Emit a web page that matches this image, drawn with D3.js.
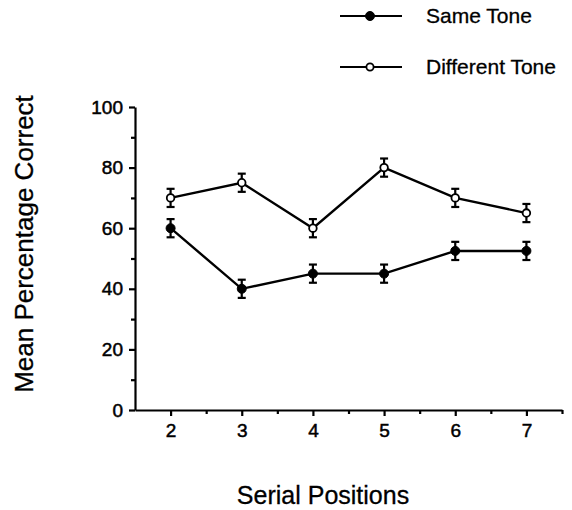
<!DOCTYPE html>
<html><head>
<meta charset="utf-8">
<script src="https://cdnjs.cloudflare.com/ajax/libs/d3/7.8.5/d3.min.js"></script>
<style>
  body { margin: 0; background: #fff; }
  svg { display: block; font-family: "Liberation Sans", Arial, sans-serif; }
  .axis path, .axis line { stroke: #000; stroke-width: 2.2; }
  .axis text { font-size: 19px; fill: #000; stroke: #000; stroke-width: 0.5; }
</style>
</head>
<body>
<svg id="chart" width="572" height="510"></svg>
<script>
// data
let positions = [2, 3, 4, 5, 6, 7];
let sameTone = [60, 40, 45, 45, 52.5, 52.5];
let diffTone = [70, 75, 60, 80, 70, 65];
let sameErr = [3, 3, 3, 3, 3, 3];
let diffErr = [3, 3, 3, 3, 3, 3];
let yMajor = [0, 20, 40, 60, 80, 100];
let yMinor = [10, 30, 50, 70, 90];
let xMinor = [2.5, 3.5, 4.5, 5.5, 6.5, 7.5];

let svg = d3.select("#chart");

let x = d3.scaleLinear().domain([1.5, 7.5]).range([135, 562]);
let y = d3.scaleLinear().domain([0, 100]).range([410, 107]);

// y axis
svg.append("g").attr("class", "axis")
  .attr("transform", "translate(135,0)")
  .call(d3.axisLeft(y).tickValues(yMajor).tickFormat(d3.format("d"))
    .tickSize(6).tickSizeOuter(0).tickPadding(6));
svg.append("g").attr("class", "axis")
  .attr("transform", "translate(135,0)")
  .call(d3.axisLeft(y).tickValues(yMinor).tickSize(4).tickFormat(""))
  .select(".domain").remove();

// x axis
svg.append("g").attr("class", "axis")
  .attr("transform", "translate(0,410)")
  .call(d3.axisBottom(x).tickValues(positions).tickFormat(d3.format("d"))
    .tickSize(6).tickSizeOuter(0).tickPadding(8));
svg.append("g").attr("class", "axis")
  .attr("transform", "translate(0,410)")
  .call(d3.axisBottom(x).tickValues(xMinor).tickSize(4).tickFormat(""))
  .select(".domain").remove();

function drawSeries(vals, errs, filled) {
  let pts = positions.map((p, i) => ({ p: p, v: vals[i], e: errs[i] }));
  let line = d3.line().x(d => x(d.p)).y(d => y(d.v));
  svg.append("path").datum(pts)
    .attr("d", line)
    .attr("fill", "none")
    .attr("stroke", "#000")
    .attr("stroke-width", 2.4);

  let g = svg.append("g");
  let eb = g.selectAll(".eb").data(pts).enter().append("g");
  eb.append("line")
    .attr("x1", d => x(d.p)).attr("x2", d => x(d.p))
    .attr("y1", d => y(d.v - d.e)).attr("y2", d => y(d.v + d.e))
    .attr("stroke", "#000").attr("stroke-width", 2.2);
  eb.append("line")
    .attr("x1", d => x(d.p) - 4).attr("x2", d => x(d.p) + 4)
    .attr("y1", d => y(d.v + d.e)).attr("y2", d => y(d.v + d.e))
    .attr("stroke", "#000").attr("stroke-width", 2.2);
  eb.append("line")
    .attr("x1", d => x(d.p) - 4).attr("x2", d => x(d.p) + 4)
    .attr("y1", d => y(d.v - d.e)).attr("y2", d => y(d.v - d.e))
    .attr("stroke", "#000").attr("stroke-width", 2.2);
  eb.append("circle")
    .attr("cx", d => x(d.p)).attr("cy", d => y(d.v))
    .attr("r", filled ? 4.5 : 3.8)
    .attr("fill", filled ? "#000" : "#fff")
    .attr("stroke", "#000").attr("stroke-width", filled ? 1 : 1.8);
}

drawSeries(diffTone, diffErr, false);
drawSeries(sameTone, sameErr, true);

// legend
let legend = [
  { name: "Same Tone", filled: true, y: 16 },
  { name: "Different Tone", filled: false, y: 67 }
];
legend.forEach(function(d) {
  svg.append("line")
    .attr("x1", 340).attr("x2", 402).attr("y1", d.y).attr("y2", d.y)
    .attr("stroke", "#000").attr("stroke-width", 2.2);
  svg.append("circle")
    .attr("cx", 370).attr("cy", d.y).attr("r", d.filled ? 4.5 : 3.6)
    .attr("fill", d.filled ? "#000" : "#fff")
    .attr("stroke", "#000").attr("stroke-width", d.filled ? 1 : 1.8);
  svg.append("text")
    .attr("x", 426).attr("y", d.y + 7)
    .style("font-size", "21px")
    .style("stroke", "#000").style("stroke-width", 0.3)
    .text(d.name);
});

// axis titles
svg.append("text")
  .attr("x", 323).attr("y", 504)
  .attr("text-anchor", "middle")
  .style("font-size", "25px")
  .style("stroke", "#000").style("stroke-width", 0.3)
  .text("Serial Positions");

svg.append("text")
  .attr("transform", "translate(33,244) rotate(-90)")
  .attr("text-anchor", "middle")
  .style("font-size", "26px")
  .style("stroke", "#000").style("stroke-width", 0.3)
  .text("Mean Percentage Correct");
</script>
</body>
</html>
